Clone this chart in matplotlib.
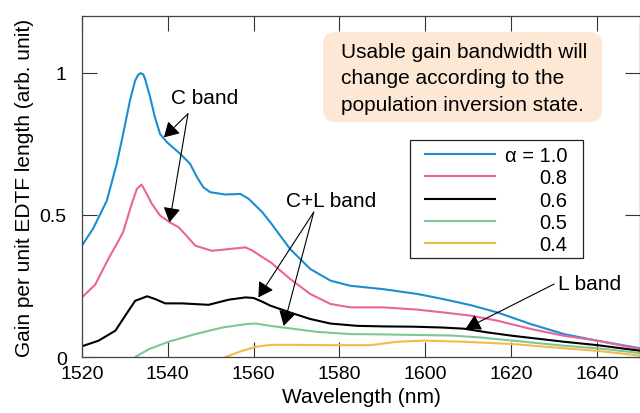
import numpy as np
import matplotlib
matplotlib.use("Agg")
import matplotlib.pyplot as plt
from matplotlib.patches import Rectangle, FancyBboxPatch

plt.rcParams['font.family'] = ['Liberation Sans', 'DejaVu Sans']

# --- curves: wavelength (nm), gain (arb. unit) ---
wl_10 = [1520, 1522.6, 1525.8, 1528.1, 1529.6, 1531.2, 1532.4, 1533.1, 1533.7, 1534.3,
         1534.7, 1535.9, 1537.0, 1538.2, 1539.8, 1542.9, 1545.2, 1546.8, 1548.3, 1549.9,
         1553.4, 1556.9, 1558.9, 1562, 1563.9, 1568.5, 1573.2, 1577.9, 1582.5, 1590.2,
         1598.2, 1604.2, 1610.5, 1616.8, 1624.6, 1632.3, 1640, 1650]
g_10 = [0.392, 0.452, 0.55, 0.68, 0.785, 0.903, 0.973, 0.993, 0.999, 0.994,
        0.979, 0.914, 0.844, 0.785, 0.756, 0.715, 0.68, 0.633, 0.597, 0.58,
        0.572, 0.574, 0.556, 0.51, 0.474, 0.38, 0.31, 0.269, 0.251, 0.239,
        0.222, 0.204, 0.183, 0.157, 0.116, 0.081, 0.058, 0.031]

wl_08 = [1520, 1523.1, 1526.3, 1528.2, 1529.6, 1531.6, 1532.8, 1533.9, 1535.1, 1536.3,
         1538.2, 1540.5, 1542.5, 1544, 1546.4, 1550.3, 1554.2, 1558.1, 1559.7, 1562,
         1564, 1568.5, 1573.2, 1577.9, 1582.5, 1590.2, 1598.2, 1604.2, 1610.5, 1616.8,
         1624.6, 1632.3, 1640, 1650]
g_08 = [0.21, 0.255, 0.35, 0.40, 0.44, 0.539, 0.592, 0.607, 0.574, 0.539,
        0.498, 0.474, 0.457, 0.433, 0.392, 0.374, 0.38, 0.386, 0.375, 0.352,
        0.333, 0.275, 0.222, 0.187, 0.175, 0.175, 0.167, 0.157, 0.146, 0.128,
        0.099, 0.075, 0.058, 0.028]

wl_06 = [1520, 1523.9, 1527.8, 1530.1, 1532.4, 1535.2, 1537.1, 1539.4, 1543.3, 1549.5,
         1554.2, 1558.1, 1560, 1562, 1563.9, 1568.5, 1573.2, 1577.9, 1584.1, 1590.2,
         1597.3, 1604, 1609, 1614.4, 1620.3, 1632.3, 1640.1, 1650.2]
g_06 = [0.038, 0.058, 0.093, 0.146, 0.198, 0.214, 0.204, 0.189, 0.189, 0.184,
        0.202, 0.21, 0.208, 0.195, 0.181, 0.157, 0.134, 0.118, 0.11, 0.108,
        0.107, 0.104, 0.1, 0.087, 0.075, 0.054, 0.042, 0.022]

wl_05 = [1532.4, 1535.6, 1540.2, 1546.4, 1552.7, 1558.1, 1560.5, 1563.9, 1568.5, 1574.7,
         1582.5, 1589.5, 1601.2, 1606, 1612.9, 1620.3, 1632.3, 1640.1, 1650.2]
g_05 = [0.0, 0.028, 0.054, 0.081, 0.104, 0.116, 0.118, 0.11, 0.101, 0.089,
        0.081, 0.08, 0.077, 0.076, 0.069, 0.058, 0.04, 0.031, 0.014]

wl_04 = [1553.4, 1557.3, 1560.4, 1563.9, 1570, 1577.9, 1587.2, 1593.4, 1599.7, 1609,
         1620.3, 1632.3, 1640.1, 1650.2]
g_04 = [0.0, 0.022, 0.036, 0.043, 0.043, 0.042, 0.042, 0.054, 0.058, 0.054,
        0.046, 0.031, 0.022, 0.005]

labels = ["\u03b1 = 1.0", "0.8", "0.6", "0.5", "0.4"]
colors = ["#1b8ed0", "#e9649c", "#000000", "#7dc796", "#f5b94a"]

xticks = [1520, 1540, 1560, 1580, 1600, 1620, 1640]
yticks = [0, 0.5, 1]
ytick_labels = ["0", "0.5", "1"]

fig = plt.figure(figsize=(6.4, 4.14), dpi=100)
ax = fig.add_axes([0.128, 0.135, 0.872, 0.824])

series = [(wl_10, g_10), (wl_08, g_08), (wl_06, g_06), (wl_05, g_05), (wl_04, g_04)]
for (x, y), c, lab in zip(series, colors, labels):
    ax.plot(x, y, color=c, lw=1.5, label=lab, solid_joinstyle='round')

ax.set_xlim(1520, 1650)
ax.set_ylim(0, 1.2)
ax.set_xticks(xticks)
ax.set_yticks(yticks)
ax.set_yticklabels(ytick_labels)
ax.tick_params(direction='in', labelsize=14, color='#333333', top=True, right=True)
ax.tick_params(axis='x', length=10.5, pad=6)
ax.tick_params(axis='y', length=10.5, pad=11)
for s in ax.spines.values():
    s.set_color('#444444')
    s.set_linewidth(0.9)

ax.set_xlabel("Wavelength (nm)", fontsize=15, labelpad=3)
ax.set_ylabel("Gain per unit EDTF length (arb. unit)", fontsize=15, labelpad=4)

# --- arrows and band labels ---
arr = dict(arrowstyle='-|>,head_length=0.6,head_width=0.35', color='black',
           lw=0.8, mutation_scale=15, shrinkA=0, shrinkB=0)
ax.text(1548.6, 0.912, "C band", fontsize=15, ha='center', va='center')
ax.annotate("", xy=(1539.1, 0.773), xytext=(1544.7, 0.856), arrowprops=arr)
ax.annotate("", xy=(1540.4, 0.474), xytext=(1544.7, 0.856), arrowprops=arr)

ax.text(1578.1, 0.551, "C+L band", fontsize=15, ha='center', va='center')
ax.annotate("", xy=(1561.1, 0.21), xytext=(1574.0, 0.51), arrowprops=arr)
ax.annotate("", xy=(1567.0, 0.11), xytext=(1574.0, 0.51), arrowprops=arr)

ax.text(1638.3, 0.26, "L band", fontsize=15, ha='center', va='center')
ax.annotate("", xy=(1609.4, 0.10), xytext=(1630.0, 0.257), arrowprops=arr)

# --- note box ---
box = FancyBboxPatch((0.432, 0.689), 0.5, 0.264, transform=ax.transAxes,
                     boxstyle='round,pad=0,rounding_size=0.022',
                     mutation_aspect=558 / 341, fc='#fde8d6', ec='none', zorder=3)
ax.add_patch(box)
ax.text(0.464, 0.819,
        "Usable gain bandwidth will\nchange according to the\npopulation inversion state.",
        transform=ax.transAxes, fontsize=15, ha='left', va='center',
        linespacing=1.5, zorder=4)

# --- legend ---
ax.add_patch(Rectangle((0.5878, 0.2903), 0.31, 0.346, transform=ax.transAxes,
                       fill=False, ec='#222222', lw=0.9, zorder=4))
leg = ax.legend(loc='upper left', bbox_to_anchor=(0.6147, 0.6195), fontsize=14.5,
                frameon=False, borderaxespad=0, borderpad=0, handlelength=3.5,
                handletextpad=0.45, labelspacing=0.17)

# right-align the legend labels
fig.canvas.draw()
r = fig.canvas.get_renderer()
texts = leg.get_texts()
widths = [t.get_window_extent(r).width for t in texts]
wmax = max(widths)
for t, w in zip(texts, widths):
    t.set_x(wmax - w)

fig.savefig("out.png", dpi=100)
